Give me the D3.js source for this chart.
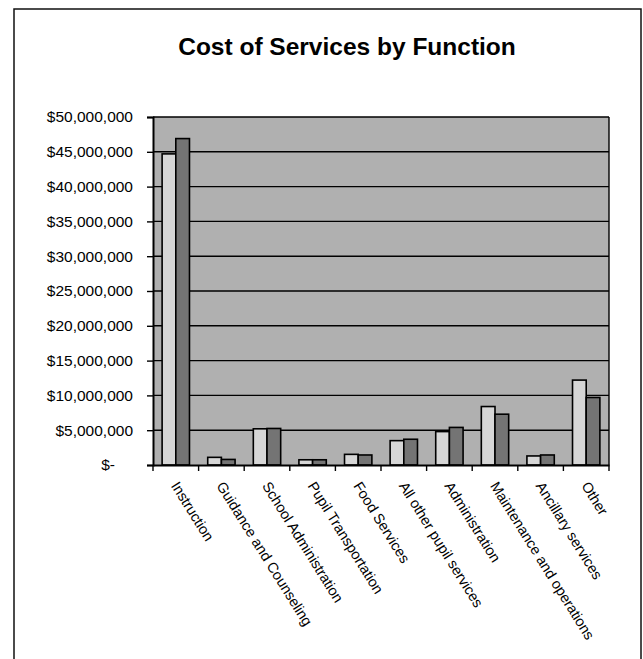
<!DOCTYPE html>
<html><head><meta charset="utf-8">
<script src="https://cdn.jsdelivr.net/npm/d3@7/dist/d3.min.js"></script>
<style>body{margin:0;background:#fff}svg{display:block}</style>
</head><body><svg id="c" width="643" height="659"></svg>
<script>
const categories = ["Instruction","Guidance and Counseling","School Administration","Pupil Transportation","Food Services","All other pupil services","Administration","Maintenance and operations","Ancillary services","Other"];
const seriesA = [44700000,1100000,5200000,750000,1530000,3500000,4800000,8400000,1300000,12200000];
const seriesB = [46900000,800000,5250000,750000,1440000,3700000,5400000,7300000,1440000,9700000];
const yTicks = [0,5000000,10000000,15000000,20000000,25000000,30000000,35000000,40000000,45000000,50000000];
const title = "Cost of Services by Function";

const svg = d3.select("#c");
const font = "'Liberation Sans', Arial, sans-serif";
const L=153, R=609, T=117, B=465;

// outer frame (open at bottom)
svg.append("path").attr("d","M14,662 L14,9 L641,9 L641,662").attr("fill","none").attr("stroke","#111").attr("stroke-width",1.5);

svg.append("text").attr("x",347).attr("y",55).attr("text-anchor","middle")
  .attr("font-family",font).attr("font-weight","bold").attr("font-size",24.5).attr("fill","#000").text(title);

const x = d3.scaleBand().domain(categories).range([L,R]).paddingInner(0.4).paddingOuter(0.2);
const y = d3.scaleLinear().domain([0,50000000]).range([B,T]);

// plot background
svg.append("rect").attr("x",L).attr("y",T).attr("width",R-L).attr("height",B-T).attr("fill","#b0b0b0");

// gridlines
svg.append("g").selectAll("line").data(yTicks.filter(d=>d>0)).join("line")
  .attr("x1",L).attr("x2",R).attr("y1",d=>y(d)).attr("y2",d=>y(d)).attr("stroke","#000").attr("stroke-width",1.4);
svg.append("line").attr("x1",R).attr("x2",R).attr("y1",T).attr("y2",B).attr("stroke","#000").attr("stroke-width",1.4);

// bars
const bw = x.bandwidth()/2;
const g = svg.append("g");
g.selectAll("rect.a").data(categories).join("rect").attr("class","a")
  .attr("x",d=>x(d)).attr("width",bw).attr("y",(d,i)=>y(seriesA[i])).attr("height",(d,i)=>B-y(seriesA[i]))
  .attr("fill","#d6d6d6").attr("stroke","#000").attr("stroke-width",1.6);
g.selectAll("rect.b").data(categories).join("rect").attr("class","b")
  .attr("x",d=>x(d)+bw).attr("width",bw).attr("y",(d,i)=>y(seriesB[i])).attr("height",(d,i)=>B-y(seriesB[i]))
  .attr("fill","#747474").attr("stroke","#000").attr("stroke-width",1.6);

// y axis
const fmt = d => d===0 ? "$-" : "$" + d3.format(",")(d);
const ya = svg.append("g").attr("transform",`translate(${L},0)`)
  .call(d3.axisLeft(y).tickValues(yTicks).tickFormat(fmt).tickSize(6).tickPadding(14));
ya.select(".domain").attr("stroke","#000").attr("stroke-width",2);
ya.selectAll(".tick line").attr("stroke","#000").attr("stroke-width",1.4);
ya.selectAll(".tick text").attr("font-family",font).attr("font-size",15.5).attr("fill","#000")
  .attr("dx",d=>d===0?-18:0);

// x axis
const xa = svg.append("g").attr("transform",`translate(0,${B})`)
  .call(d3.axisBottom(x).tickSize(0).tickFormat(""));
xa.select(".domain").attr("stroke","#000").attr("stroke-width",2);
svg.append("g").selectAll("line").data(d3.range(categories.length+1)).join("line")
  .attr("x1",i=>L+i*(R-L)/categories.length).attr("x2",i=>L+i*(R-L)/categories.length)
  .attr("y1",B).attr("y2",B+6).attr("stroke","#000").attr("stroke-width",1.4);

svg.append("g").selectAll("text").data(categories).join("text")
  .attr("transform",d=>`translate(${x(d)+x.bandwidth()/2-1},${B+18}) rotate(58)`)
  .attr("dy","0.35em").attr("font-family",font).attr("font-size",14.5).attr("fill","#000").text(d=>d);
</script></body></html>
